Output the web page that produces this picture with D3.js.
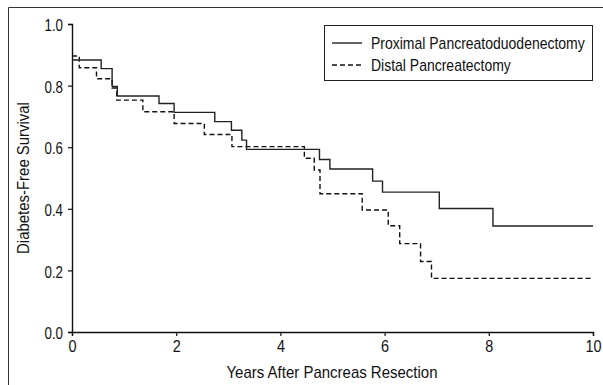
<!DOCTYPE html>
<html><head><meta charset="utf-8">
<script src="https://cdn.jsdelivr.net/npm/d3@7"></script>
<style>
html,body{margin:0;padding:0;background:#fff;}
svg{display:block;}
text{font-family:"Liberation Sans Narrow","Arial Narrow","Liberation Sans",Arial,sans-serif;fill:#111;}
</style></head>
<body>
<svg id="chart" width="603" height="385"></svg>
<script>
// Step-curve data: times at which survival drops, and the survival level after each time
const proximalTimes = [0, 0.56, 0.77, 0.87, 1.67, 1.96, 2.74, 3.06, 3.26, 3.35, 4.75, 4.95, 5.77, 5.96, 7.05, 8.08, 10];
const proximalSurv  = [0.883, 0.855, 0.797, 0.766, 0.742, 0.713, 0.683, 0.655, 0.623, 0.593, 0.560, 0.529, 0.490, 0.454, 0.401, 0.344, 0.344];
const distalTimes = [0, 0.14, 0.47, 0.77, 0.86, 1.36, 1.96, 2.54, 3.07, 4.46, 4.65, 4.76, 5.57, 6.07, 6.29, 6.69, 6.90, 10];
const distalSurv  = [0.896, 0.858, 0.822, 0.792, 0.753, 0.715, 0.677, 0.641, 0.602, 0.564, 0.526, 0.449, 0.396, 0.345, 0.287, 0.229, 0.174, 0.174];
const xTicks = [0, 2, 4, 6, 8, 10];
const yTicks = [0.0, 0.2, 0.4, 0.6, 0.8, 1.0];
const seriesNames = ["Proximal Pancreatoduodenectomy", "Distal Pancreatectomy"];

const FS = "16px";
const svg = d3.select("#chart");
// place a horizontally condensed text (reference uses a condensed face) at (px,py), optional rotation
function condensedText(parent, str, px, py, width, anchor, rot, dy) {
  const g = parent.append("g");
  const t = g.append("text").attr("x", 0).attr("y", 0).attr("dy", dy || null)
    .attr("text-anchor", anchor).style("font-size", FS).text(str);
  const w = t.node().getComputedTextLength();
  const sx = Math.min(1, width / w);
  g.attr("transform", `translate(${px},${py})` + (rot ? ` rotate(${rot})` : "") + ` scale(${sx.toFixed(4)},1)`);
  return t;
}

// outer frame
svg.append("path").attr("d", "M8.5,385 V7.5 H603").attr("fill","none").attr("stroke","#333").attr("stroke-width",1);

const x = d3.scaleLinear().domain([0, 10]).range([72, 593]);
const y = d3.scaleLinear().domain([0, 1]).range([332, 24]);

const xAxis = svg.append("g").attr("transform","translate(0,332)")
  .call(d3.axisBottom(x).tickValues(xTicks).tickFormat(d3.format("d")).tickSizeOuter(0).tickSize(4).tickPadding(5));
const yAxis = svg.append("g").attr("transform","translate(72,0)")
  .call(d3.axisLeft(y).tickValues(yTicks).tickFormat(d3.format(".1f")).tickSizeOuter(0).tickSize(4).tickPadding(5));
[xAxis, yAxis].forEach(g => {
  g.selectAll("path.domain").attr("stroke","#111").attr("stroke-width",1.4);
  g.selectAll(".tick line").attr("stroke","#111").attr("stroke-width",1.2);
  g.selectAll(".tick text").style("font-family",'"Liberation Sans Narrow","Arial Narrow","Liberation Sans",Arial,sans-serif').style("font-size",FS).attr("fill","#111");
});
// condense tick labels around their anchor points
xAxis.selectAll(".tick text").attr("transform", "scale(0.9,1)");
yAxis.selectAll(".tick text").attr("dy","0.42em").each(function() {
  const w = this.getComputedTextLength();
  const sx = 18.5 / w;
  const tx = +d3.select(this).attr("x");
  d3.select(this).attr("x", tx / sx).attr("transform", `scale(${sx.toFixed(4)},1)`);
});

condensedText(svg, "Years After Pancreas Resection", 332, 378, 211, "middle");
condensedText(svg, "Diabetes-Free Survival", 29, 178, 152, "middle", -90);

const stepLine = d3.line().x(d => x(d[0])).y(d => y(d[1])).curve(d3.curveStepAfter);
const prox = proximalTimes.map((t,i) => [t, proximalSurv[i]]);
const dist = distalTimes.map((t,i) => [t, distalSurv[i]]);

svg.append("path").attr("d", stepLine(dist)).attr("fill","none").attr("stroke","#111").attr("stroke-width",1.4).attr("stroke-dasharray","5,3");
svg.append("path").attr("d", stepLine(prox)).attr("fill","none").attr("stroke","#222").attr("stroke-width",1.4);

// legend
const lg = svg.append("g");
lg.append("rect").attr("x",324.5).attr("y",25.5).attr("width",268).attr("height",55).attr("fill","#fff").attr("stroke","#222").attr("stroke-width",1);
const rows = [{name: seriesNames[0], dash: null, yy: 43, w: 214}, {name: seriesNames[1], dash: "5,3", yy: 65, w: 140}];
rows.forEach(r => {
  lg.append("line").attr("x1",332).attr("x2",362).attr("y1",r.yy).attr("y2",r.yy)
    .attr("stroke","#111").attr("stroke-width",1.3).attr("stroke-dasharray", r.dash);
  condensedText(lg, r.name, 371, r.yy, r.w, "start", 0, "0.36em");
});
</script>
</body></html>
